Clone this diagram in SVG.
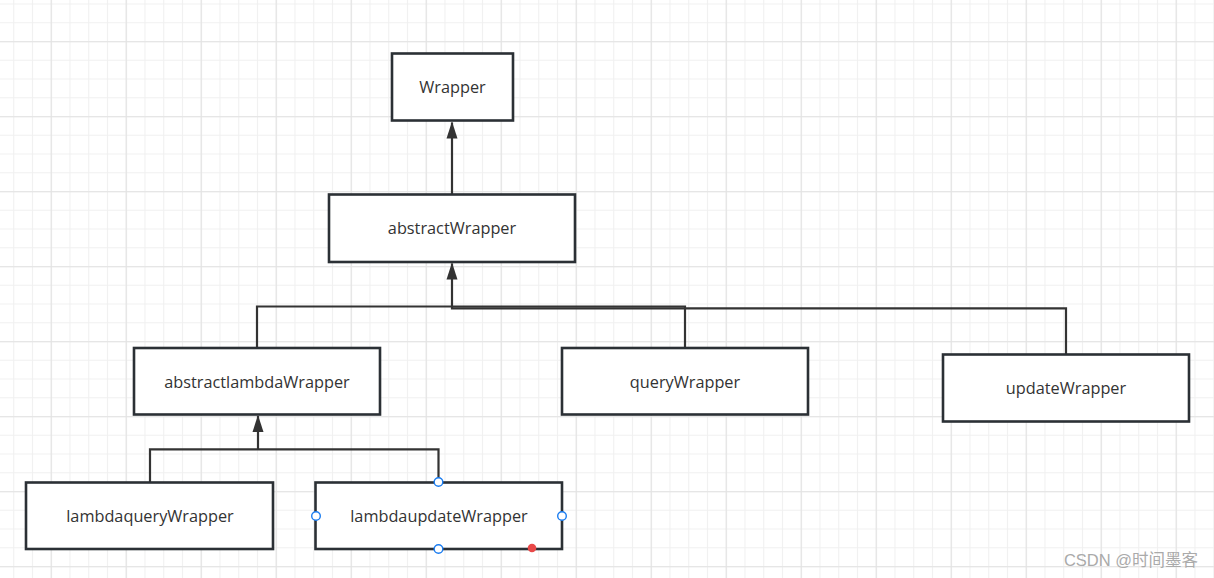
<svg xmlns="http://www.w3.org/2000/svg" width="1214" height="578" viewBox="0 0 1214 578">
<defs>
<pattern id="minor" x="13.2" y="3.5" width="18.75" height="18.75" patternUnits="userSpaceOnUse">
<path d="M0 0.5H18.75M0.5 0V18.75" fill="none" stroke="#f0f0f0" stroke-width="1.2"/>
</pattern>
<pattern id="major" x="50.7" y="41.3" width="75" height="75" patternUnits="userSpaceOnUse">
<path d="M0 0.5H75M0.5 0V75" fill="none" stroke="#e2e2e2" stroke-width="1.2"/>
</pattern>
<marker id="arr" viewBox="0 0 17 12" refX="16" refY="6" markerWidth="17" markerHeight="12" markerUnits="userSpaceOnUse" orient="auto">
<path d="M0 0.5L17 6L0 11.5Z" fill="#333"/>
</marker>
</defs>
<style>
.box{fill:#fff;stroke:#2b3035;stroke-width:2.6}
.lbl{font-family:"Open Sans","Noto Sans",sans-serif;font-size:16.3px;fill:#333;text-anchor:middle}
.con{fill:none;stroke:#333;stroke-width:2.2}
.h{fill:#fff;stroke:#1a7cf0;stroke-width:1.4}
</style>
<rect width="1214" height="578" fill="#fff"/>
<rect width="1214" height="578" fill="url(#minor)"/>
<rect width="1214" height="578" fill="url(#major)"/>
<g id="connectors">
<path class="con" d="M452 194V122.5" marker-end="url(#arr)"/>
<path class="con" d="M452 306V263.5" marker-end="url(#arr)"/>
<path class="con" d="M257 348V306.5H452"/>
<path class="con" d="M685 348V306.5H452"/>
<path class="con" d="M1066 354V308.3H452V306"/>
<path class="con" d="M258 449V416" marker-end="url(#arr)"/>
<path class="con" d="M150 482V449.3H438.5V482"/>
</g>
<g id="wrapper"><rect class="box" x="392" y="53.5" width="121" height="67"/><text class="lbl" x="452.5" y="92.5">Wrapper</text></g>
<g id="abstractWrapper"><rect class="box" x="329" y="194.5" width="246" height="67.5"/><text class="lbl" x="452" y="233.5">abstractWrapper</text></g>
<g id="abstractlambdaWrapper"><rect class="box" x="134" y="348" width="246" height="66.5"/><text class="lbl" x="257" y="387.5">abstractlambdaWrapper</text></g>
<g id="queryWrapper"><rect class="box" x="562" y="348" width="246" height="66.5"/><text class="lbl" x="685" y="387.5">queryWrapper</text></g>
<g id="updateWrapper"><rect class="box" x="943" y="354.5" width="246" height="67"/><text class="lbl" x="1066" y="393.5">updateWrapper</text></g>
<g id="lambdaqueryWrapper"><rect class="box" x="26" y="482.5" width="247" height="66.5"/><text class="lbl" x="150" y="521.5">lambdaqueryWrapper</text></g>
<g id="lambdaupdateWrapper"><rect class="box" x="315.5" y="482.5" width="246.5" height="66.5"/><text class="lbl" x="439" y="521.5">lambdaupdateWrapper</text>
<circle class="h" cx="438.5" cy="482" r="4.3"/><circle class="h" cx="316" cy="516" r="4.3"/><circle class="h" cx="562" cy="516" r="4.3"/><circle class="h" cx="438.5" cy="549" r="4.3"/><circle cx="532" cy="548" r="4.3" fill="#e84848"/>
</g>
<text x="1198" y="566" font-family="'Liberation Sans','Noto Sans CJK SC',sans-serif" font-size="16.5" fill="#aaa" text-anchor="end">CSDN @时间墨客</text>
</svg>
